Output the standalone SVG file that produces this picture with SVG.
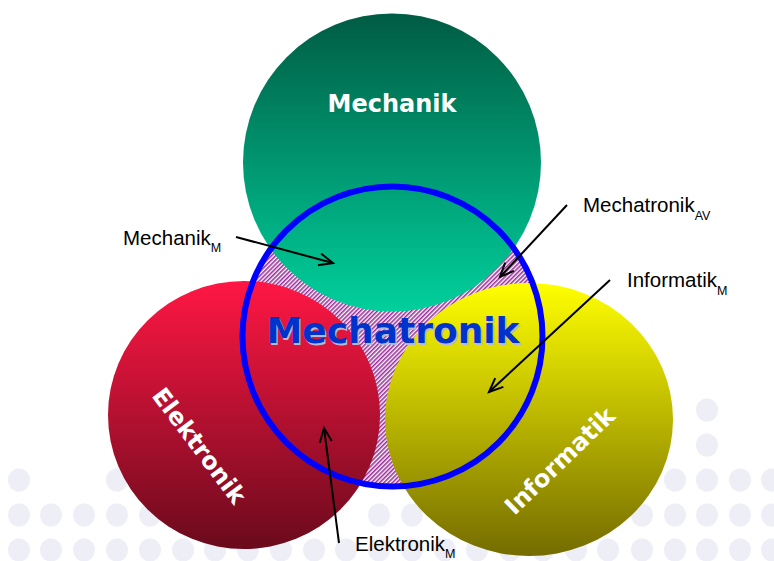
<svg xmlns="http://www.w3.org/2000/svg" width="774" height="561" viewBox="0 0 774 561">
<defs>
<style>
.dot{fill:#eeeef6}
.big{font-family:"DejaVu Sans",Verdana,sans-serif;font-weight:bold;fill:#fff;font-size:24px;text-anchor:middle}
.lbl{font-family:"Liberation Sans",Arial,sans-serif;font-size:20.5px;fill:#000}
.sub{font-size:12.5px}
.arr{stroke:#000;stroke-width:2;fill:none;marker-end:url(#ah)}
</style>
<linearGradient id="gTeal" x1="0" y1="0" x2="0" y2="1">
<stop offset="0" stop-color="#005c44"/>
<stop offset="1" stop-color="#00d09c"/>
</linearGradient>
<linearGradient id="gRed" x1="0" y1="0" x2="0" y2="1">
<stop offset="0" stop-color="#ff1744"/>
<stop offset="1" stop-color="#6a0a1c"/>
</linearGradient>
<linearGradient id="gYel" x1="0" y1="0" x2="0" y2="1">
<stop offset="0" stop-color="#ffff00"/>
<stop offset="1" stop-color="#746c00"/>
</linearGradient>
<pattern id="hatch" width="3" height="3" patternUnits="userSpaceOnUse" patternTransform="rotate(45)">
<rect width="3" height="3" fill="#ffffff"/>
<rect width="1.6" height="3" fill="#9a2f9a"/>
</pattern>
<marker id="ah" markerUnits="userSpaceOnUse" markerWidth="20" markerHeight="16" refX="15" refY="7" orient="auto">
<path d="M1,1 L15,7 L1,13" fill="none" stroke="#000" stroke-width="2"/>
</marker>
</defs>
<rect width="774" height="561" fill="#ffffff"/>
<g id="background-dots">
<ellipse class="dot" cx="707" cy="410" rx="11" ry="11.5"/>
<ellipse class="dot" cx="707" cy="445" rx="11" ry="11.5"/>
<ellipse class="dot" cx="19" cy="480" rx="11" ry="11.5"/>
<ellipse class="dot" cx="117" cy="480" rx="11" ry="11.5"/>
<ellipse class="dot" cx="675" cy="480" rx="11" ry="11.5"/>
<ellipse class="dot" cx="707" cy="480" rx="11" ry="11.5"/>
<ellipse class="dot" cx="740" cy="480" rx="11" ry="11.5"/>
<ellipse class="dot" cx="772" cy="480" rx="11" ry="11.5"/>
<ellipse class="dot" cx="19" cy="515" rx="11" ry="11.5"/>
<ellipse class="dot" cx="51" cy="515" rx="11" ry="11.5"/>
<ellipse class="dot" cx="84" cy="515" rx="11" ry="11.5"/>
<ellipse class="dot" cx="117" cy="515" rx="11" ry="11.5"/>
<ellipse class="dot" cx="150" cy="515" rx="11" ry="11.5"/>
<ellipse class="dot" cx="379" cy="515" rx="11" ry="11.5"/>
<ellipse class="dot" cx="412" cy="515" rx="11" ry="11.5"/>
<ellipse class="dot" cx="642" cy="515" rx="11" ry="11.5"/>
<ellipse class="dot" cx="675" cy="515" rx="11" ry="11.5"/>
<ellipse class="dot" cx="707" cy="515" rx="11" ry="11.5"/>
<ellipse class="dot" cx="740" cy="515" rx="11" ry="11.5"/>
<ellipse class="dot" cx="772" cy="515" rx="11" ry="11.5"/>
<ellipse class="dot" cx="19" cy="550" rx="11" ry="11.5"/>
<ellipse class="dot" cx="51" cy="550" rx="11" ry="11.5"/>
<ellipse class="dot" cx="84" cy="550" rx="11" ry="11.5"/>
<ellipse class="dot" cx="117" cy="550" rx="11" ry="11.5"/>
<ellipse class="dot" cx="150" cy="550" rx="11" ry="11.5"/>
<ellipse class="dot" cx="183" cy="550" rx="11" ry="11.5"/>
<ellipse class="dot" cx="215" cy="550" rx="11" ry="11.5"/>
<ellipse class="dot" cx="248" cy="550" rx="11" ry="11.5"/>
<ellipse class="dot" cx="281" cy="550" rx="11" ry="11.5"/>
<ellipse class="dot" cx="314" cy="550" rx="11" ry="11.5"/>
<ellipse class="dot" cx="346" cy="550" rx="11" ry="11.5"/>
<ellipse class="dot" cx="379" cy="550" rx="11" ry="11.5"/>
<ellipse class="dot" cx="412" cy="550" rx="11" ry="11.5"/>
<ellipse class="dot" cx="445" cy="550" rx="11" ry="11.5"/>
<ellipse class="dot" cx="477" cy="550" rx="11" ry="11.5"/>
<ellipse class="dot" cx="510" cy="550" rx="11" ry="11.5"/>
<ellipse class="dot" cx="543" cy="550" rx="11" ry="11.5"/>
<ellipse class="dot" cx="576" cy="550" rx="11" ry="11.5"/>
<ellipse class="dot" cx="608" cy="550" rx="11" ry="11.5"/>
<ellipse class="dot" cx="642" cy="550" rx="11" ry="11.5"/>
<ellipse class="dot" cx="675" cy="550" rx="11" ry="11.5"/>
<ellipse class="dot" cx="707" cy="550" rx="11" ry="11.5"/>
<ellipse class="dot" cx="740" cy="550" rx="11" ry="11.5"/>
<ellipse class="dot" cx="772" cy="550" rx="11" ry="11.5"/>
</g>
<g id="mechatronik-area">
<circle cx="392.5" cy="336.5" r="150" fill="url(#hatch)"/>
</g>
<g id="mechanik">
<circle cx="392" cy="162.5" r="149" fill="url(#gTeal)"/>
<text class="big" x="392" y="112">Mechanik</text>
</g>
<g id="elektronik">
<ellipse cx="244" cy="415" rx="136" ry="134" fill="url(#gRed)"/>
<text class="big" transform="translate(199,446) rotate(53)" x="0" y="8">Elektronik</text>
</g>
<g id="informatik">
<ellipse cx="529" cy="419.5" rx="144" ry="136.5" fill="url(#gYel)"/>
<text class="big" transform="translate(560,461) rotate(-44)" x="0" y="8">Informatik</text>
</g>
<g id="mechatronik">
<circle cx="392.5" cy="336.5" r="150" fill="none" stroke="#0000ff" stroke-width="6"/>
<text x="394.5" y="344.5" font-family="'DejaVu Sans',Verdana,sans-serif" font-weight="bold" font-size="36" text-anchor="middle" fill="#b8b8d4">Mechatronik</text>
<text x="393" y="343" font-family="'DejaVu Sans',Verdana,sans-serif" font-weight="bold" font-size="36" text-anchor="middle" fill="#0033cc">Mechatronik</text>
</g>
<g id="connectors">
<line class="arr" x1="236" y1="237" x2="333" y2="263"/>
<line class="arr" x1="567" y1="205" x2="500" y2="277"/>
<line class="arr" x1="610" y1="280" x2="489" y2="392"/>
<line class="arr" x1="339" y1="543" x2="324" y2="428"/>
</g>
<g id="label-mechanik-m">
<text class="lbl" x="123" y="245">Mechanik<tspan class="sub" dy="7">M</tspan></text>
</g>
<g id="label-mechatronik-av">
<text class="lbl" x="583" y="212">Mechatronik<tspan class="sub" dy="8">AV</tspan></text>
</g>
<g id="label-informatik-m">
<text class="lbl" x="627" y="287">Informatik<tspan class="sub" dy="8">M</tspan></text>
</g>
<g id="label-elektronik-m">
<text class="lbl" x="355" y="551">Elektronik<tspan class="sub" dy="7">M</tspan></text>
</g>
</svg>
